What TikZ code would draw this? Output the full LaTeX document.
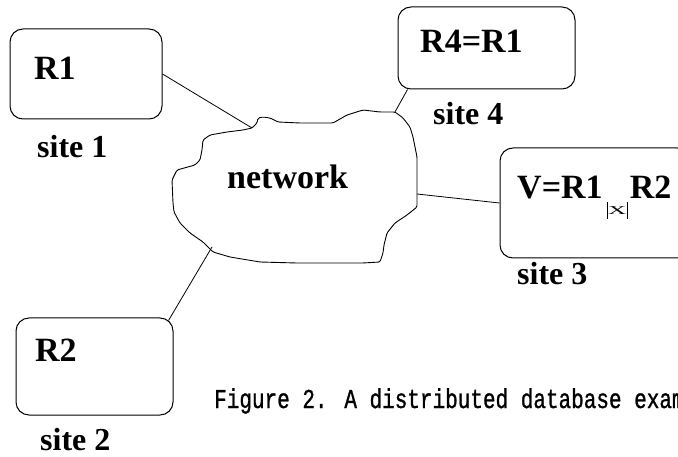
\documentclass[tikz,border=0pt]{standalone}
\usepackage{fontspec}
\setmainfont{Liberation Serif}
\newfontfamily\capfont[FakeBold=1.2]{Liberation Mono}
\newcommand{\joinmark}{%
  \kern4pt\rule[-20pt]{1pt}{17pt}\kern0.5pt%
  \raisebox{-16pt}{\scalebox{2.1}[1]{\fontsize{12}{12}\mdseries\selectfont X}}%
  \kern0.5pt\rule[-20pt]{1pt}{17pt}\kern2pt}
\begin{document}
\begin{tikzpicture}[x=1pt,y=-1pt,
  sitebox/.style={draw,line width=1pt,rounded corners=13pt,inner sep=0pt},
  label/.style={anchor=base west,inner sep=0pt,font=\fontsize{34}{34}\selectfont\bfseries},
  sitename/.style={anchor=base west,inner sep=0pt,font=\fontsize{32}{32}\selectfont\bfseries},
  link/.style={line width=0.8pt}]
\useasboundingbox (0,0) rectangle (678,457);
\begin{scope}
\clip (0,0) rectangle (678,457);

% the four sites
\node[sitebox,minimum width=152pt,minimum height=90pt] (r1box) at (86,74) {};
\node[sitebox,minimum width=157pt,minimum height=97pt] (r2box) at (94.5,366.5) {};
\node[sitebox,minimum width=177pt,minimum height=82pt] (r4box) at (486.5,48) {};
\node[sitebox,minimum width=190pt,minimum height=110pt] (vbox) at (595,203) {};

% network cloud
\draw[line width=0.9pt,rounded corners=1.5pt]
  (252,128) -- (257,123) -- (258,118) -- (263,117) -- (270,118) -- (278,122)
  -- (300,123) -- (333,123) -- (347,115) -- (363,110) -- (380,112) -- (395,112)
  -- (403,118) -- (410,127) -- (413,137) -- (417,157) -- (417,193) -- (417,207)
  -- (407,215) -- (395,223) -- (387,233) -- (384,245) -- (383,253) -- (380,262)
  -- (363,263) -- (297,263) -- (260,262) -- (230,257) -- (213,252) -- (203,242)
  -- (190,233) -- (180,223) -- (174,212) -- (173,203) -- (172,180) -- (177,170)
  -- (195,165) -- (200,160) -- (202,150) -- (203,140) -- (210,135) -- (227,132)
  -- (243,130) -- cycle;
\coordinate (n1) at (252,128);
\coordinate (n2) at (212,247);
\coordinate (n3) at (417,194);
\coordinate (n4) at (395,112);
\node[label] (net) at (227,189) {network};

% links to the network
\draw[link] (r1box.east) -- (n1);
\draw[link] (r2box.north east) ++(-5,3) coordinate (r2c) -- (n2);
\draw[link] (r4box.south west) ++(10,0) coordinate (r4c) -- (n4);
\draw[link] (n3) -- (vbox.west);

% contents and site names
\node[label] (t1) at (34,80) {R1};
\node[sitename] (s1) at (37,158) {site 1};
\node[label] (t2) at (35,362) {R2};
\node[sitename] (s2) at (40,450) {site 2};
\node[label] (t4) at (420,53) {R4=R1};
\node[sitename] (s4) at (433,125) {site 4};
\node[label] (t3) at (517,199) {V=R1\joinmark R2};
\node[sitename] (s3) at (517,285) {site 3};

% caption
\node[anchor=base west,inner sep=0pt,font=\capfont\fontsize{21}{21}\selectfont] (cap)
  at (214,408) {\scalebox{1}[1.3]{Figure 2. A distributed database exam}};
\end{scope}
\end{tikzpicture}
\end{document}
